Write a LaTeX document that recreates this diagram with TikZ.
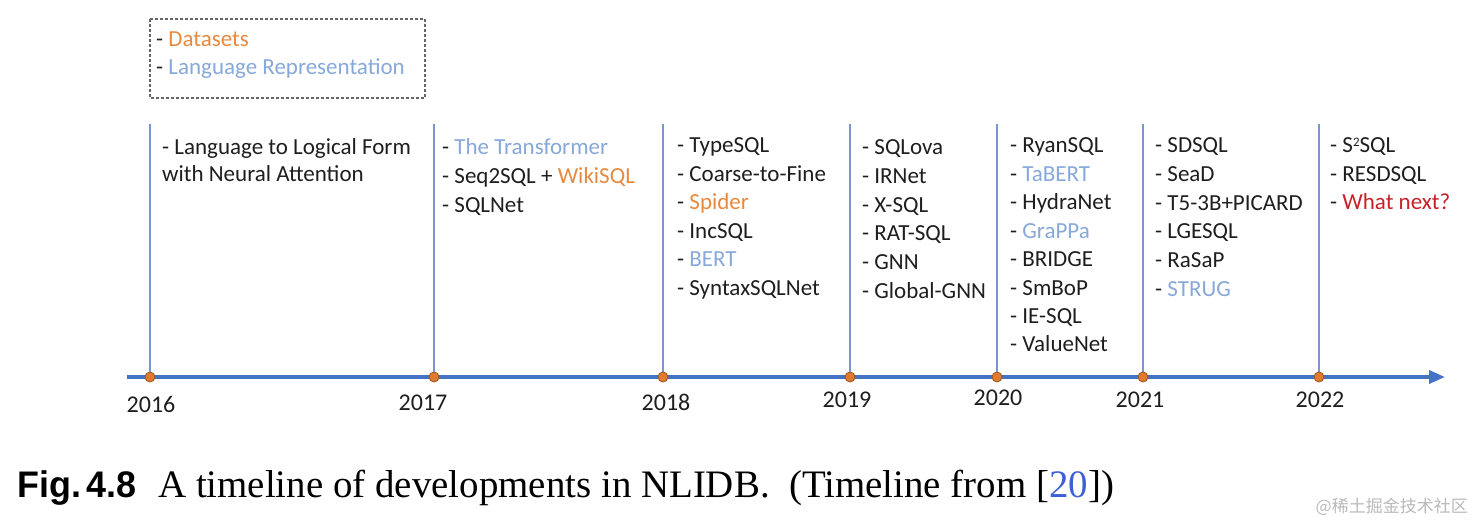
\documentclass[tikz,border=0pt]{standalone}
\usepackage{fontspec}
\setmainfont{Carlito}
\newfontfamily\capserif{Liberation Serif}
\newfontfamily\capsans{Liberation Sans}
\newfontfamily\cjk{Noto Sans CJK SC}
\usetikzlibrary{arrows.meta}
\definecolor{axisblue}{HTML}{4472C4}
\definecolor{vlineblue}{HTML}{7B95D2}
\definecolor{dsorange}{HTML}{E8893E}
\definecolor{lrblue}{HTML}{86A8DA}
\definecolor{nextred}{HTML}{C62127}
\definecolor{dotorange}{HTML}{E07A2E}
\definecolor{txt}{HTML}{1E1E1E}
\definecolor{refblue}{HTML}{3F5FD8}
\newcommand\colitems[5]{%
  \foreach \c/\t [count=\i from 1] in {#5} {
    \node[item] (#1-\i) at (#2, {#3+#4*(\i-1)}) {- \textcolor{\c}{\t}};
  }%
}
\newcommand\smallsup[1]{\raisebox{0.62ex}{\fontsize{13}{13}\selectfont #1}}
\begin{document}
\begin{tikzpicture}[x=1pt,y=-1pt,
  item/.style={anchor=base west, inner sep=0pt, font=\fontsize{23}{28}\selectfont, text=txt},
  year/.style={anchor=base, inner sep=0pt, font=\fontsize{24}{28}\selectfont, text=txt},
  vline/.style={draw=vlineblue, line width=2.4pt},
  axisline/.style={draw=axisblue, line width=3.6pt, -{Triangle[length=16pt,width=13pt]}},
  dot/.style={circle, fill=dotorange, draw=dotorange!70!black, line width=0.8pt, minimum size=10pt, inner sep=0pt},
  legendbox/.style={draw=gray!80!black, line width=1.2pt, dash pattern=on 3pt off 2pt},
]
\useasboundingbox (0,0) rectangle (1476,524);

% legend
\coordinate (lgA) at (150,19);
\coordinate (lgB) at (425,98);
\draw[legendbox] (lgA) rectangle (lgB);
\node[item] (lg1) at (156,47) {- \textcolor{dsorange}{Datasets}};
\node[item] (lg2) at (156,75) {- \textcolor{lrblue}{Language Representation}};

% axis
\coordinate (axL) at (127,377);
\coordinate (axR) at (1445,377);
\draw[axisline] (axL) -- (axR);

\foreach \n/\x in {16/150,17/434,18/663,19/850,20/997,21/1143,22/1319} {
  \coordinate (top\n) at (\x,124);
  \coordinate (base\n) at (\x,377);
  \draw[vline] (top\n) -- (base\n);
  \node[dot] (dot\n) at (base\n) {};
}

% years
\node[year] (y16) at (151,412) {2016};
\node[year] (y17) at (423,410) {2017};
\node[year] (y18) at (666,410) {2018};
\node[year] (y19) at (847,407) {2019};
\node[year] (y20) at (998,405) {2020};
\node[year] (y21) at (1140,407) {2021};
\node[year] (y22) at (1320,407) {2022};

% columns
\node[item] (c1-1) at (162,155) {- Language to Logical Form};
\node[item] (c1-2) at (162,182) {with Neural Attention};

\colitems{c2}{442}{155}{28.5}{lrblue/The Transformer, txt/{Seq2SQL + \textcolor{dsorange}{WikiSQL}}, txt/SQLNet}
\colitems{c3}{677}{153}{28.4}{txt/TypeSQL, txt/Coarse-to-Fine, dsorange/Spider, txt/IncSQL, lrblue/BERT, txt/SyntaxSQLNet}
\colitems{c4}{862}{155}{28.6}{txt/SQLova, txt/IRNet, txt/X-SQL, txt/RAT-SQL, txt/GNN, txt/Global-GNN}
\colitems{c5}{1010}{153}{28.4}{txt/RyanSQL, lrblue/TaBERT, txt/HydraNet, lrblue/GraPPa, txt/BRIDGE, txt/SmBoP, txt/IE-SQL, txt/ValueNet}
\colitems{c6}{1155}{153}{28.6}{txt/SDSQL, txt/SeaD, txt/T5-3B+PICARD, txt/LGESQL, txt/RaSaP, lrblue/STRUG}
\colitems{c7}{1330}{153}{28.5}{txt/{S\smallsup{2}SQL}, txt/RESDSQL, nextred/What next?}

% caption
\node[anchor=base west, inner sep=0pt] (figlabel) at (17,497)
  {\scalebox{0.97}[1]{\capsans\bfseries\fontsize{37}{40}\selectfont Fig.\,4.8}};
\node[anchor=base west, inner sep=0pt] (caption) at (158,497)
  {\capserif\fontsize{38.9}{42}\selectfont A timeline of developments in NLIDB.\ \ (Timeline from [\textcolor{refblue}{20}])};
\node[anchor=base east, inner sep=0pt, text=gray!55, font=\cjk\fontsize{17}{20}\selectfont] (wm) at (1468,512) {@稀土掘金技术社区};
\end{tikzpicture}
\end{document}
